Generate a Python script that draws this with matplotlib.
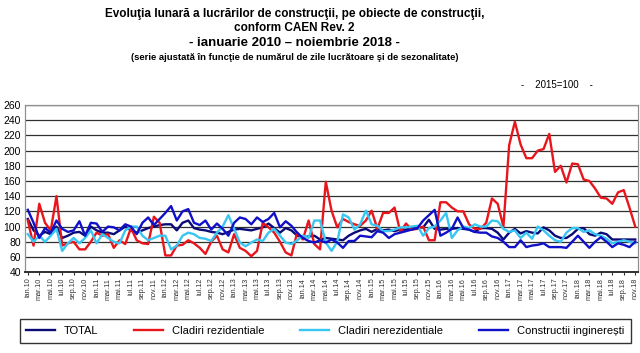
#!/usr/bin/env python3
"""Monthly construction works index by object type, Jan 2010 - Nov 2018."""

import matplotlib
matplotlib.use("Agg")
import matplotlib.pyplot as plt
import numpy as np

plt.rcParams["font.family"] = ["Liberation Sans", "DejaVu Sans"]

MONTHS = ["ian", "feb", "mar", "apr", "mai", "iun",
          "iul", "aug", "sep", "oct", "nov", "dec"]
YEARS = list(range(10, 19))
N_MONTHS = 107  # ian.10 .. nov.18

TOTAL = [
    110, 95, 88, 93, 90, 100, 85, 88, 92, 93,
    88, 100, 95, 92, 92, 90, 95, 100, 95, 92,
    95, 98, 100, 102, 103, 103, 95, 105, 108, 98,
    96, 95, 93, 92, 90, 93, 96, 97, 96, 95,
    97, 99, 104, 98, 92, 98, 95, 88, 86, 87,
    88, 83, 85, 84, 83, 82, 88, 92, 95, 97,
    93, 97, 95, 96, 94, 96, 96, 98, 98, 99,
    109, 97, 96, 97, 97, 98, 97, 96, 93, 98,
    98, 97, 92, 83, 92, 97, 91, 94, 92, 91,
    99, 95, 88, 85, 85, 90, 97, 98, 90, 88,
    92, 90, 83, 83, 83, 83, 83,
]
REZIDENTIALE = [
    108, 75, 130, 105, 95, 140, 75, 78, 80, 70,
    70, 80, 92, 88, 90, 72, 82, 77, 98, 82,
    78, 77, 113, 105, 62, 62, 75, 76, 82, 78,
    72, 64, 80, 88, 70, 66, 90, 72, 68, 61,
    68, 105, 99, 92, 80, 66, 62, 92, 83, 108,
    77, 70, 159, 121, 99, 110, 106, 103, 101, 108,
    121, 97, 118, 118, 125, 93, 104, 96, 97, 100,
    82, 82, 132, 132, 125, 120, 120, 103, 97, 97,
    105, 137, 130, 100, 207, 238, 208, 190, 190, 200,
    202, 222, 172, 180, 158, 183, 182, 162, 160, 150,
    138, 137, 130, 145, 148, 125, 100,
]
NEREZIDENTIALE = [
    90, 80, 88, 80, 88, 97, 68, 78, 85, 78,
    85, 95, 78, 90, 85, 80, 78, 95, 100, 100,
    88, 82, 85, 88, 88, 70, 75, 88, 92, 90,
    85, 84, 81, 92, 100, 115, 97, 79, 74, 79,
    83, 81, 92, 97, 88, 79, 77, 82, 88, 85,
    108, 108, 79, 68, 80, 116, 112, 96, 103, 121,
    103, 101, 94, 94, 96, 99, 99, 100, 101, 88,
    98, 100, 108, 118, 85, 95, 100, 98, 103, 100,
    100, 108, 107, 97, 93, 95, 85, 92, 84, 100,
    95, 88, 82, 80, 92, 98, 98, 93, 95, 90,
    88, 84, 78, 80, 82, 80, 78,
]
INGINERESTI = [
    122, 105, 85, 98, 92, 108, 97, 93, 95, 107,
    88, 105, 104, 93, 100, 99, 95, 103, 100, 90,
    105, 112, 102, 110, 118, 127, 108, 120, 123, 105,
    102, 108, 96, 104, 97, 88, 105, 112, 110, 103,
    112, 106, 110, 118, 99, 107, 101, 92, 85, 81,
    79, 82, 79, 83, 79, 72, 81, 81, 88, 87,
    86, 94, 92, 85, 90, 92, 94, 96, 98, 108,
    115, 122, 88, 92, 97, 112, 98, 96, 93, 92,
    92, 87, 85, 80, 73, 73, 82, 73, 75, 76,
    78, 73, 73, 73, 72, 80, 88, 80, 72, 80,
    86, 80, 73, 78, 76, 73, 80,
]

SERIES = [
    ("TOTAL", TOTAL, "#0b0b78"),
    ("Cladiri rezidentiale", REZIDENTIALE, "#e8161c"),
    ("Cladiri nerezidentiale", NEREZIDENTIALE, "#38c6f2"),
    ("Constructii inginerești", INGINERESTI, "#1010c8"),
]


def main() -> None:
    labels = [f"{m}.{y}" for y in YEARS for m in MONTHS][:N_MONTHS]
    x = np.arange(N_MONTHS)

    fig = plt.figure(figsize=(6.4, 3.53), dpi=100)
    ax = fig.add_axes([0.039, 0.229, 0.958, 0.4735])

    for name, vals, color in SERIES:
        ax.plot(x, vals, color=color, lw=1.7, label=name, zorder=3)

    ax.set_ylim(40, 260)
    ax.set_yticks(range(40, 261, 20))
    ax.set_xlim(-0.5, N_MONTHS - 0.5)
    ax.set_xticks(x[::2])
    ax.set_xticklabels(labels[::2], rotation=90, fontsize=5.2, color="#333333")
    ax.tick_params(axis="y", labelsize=7.5, length=0, pad=3)
    ax.tick_params(axis="x", length=2, pad=2, color="#333333")
    ax.grid(axis="y", color="#303030", lw=0.9)
    ax.set_axisbelow(True)
    for side in ("top", "right", "left"):
        ax.spines[side].set_color("#909090")
        ax.spines[side].set_linewidth(0.9)
    ax.spines["bottom"].set_color("#303030")
    ax.spines["bottom"].set_linewidth(1.4)

    fig.text(0.46, 0.96, "Evoluţia lunară a lucrărilor de construcţii, pe obiecte de construcţii,",
             ha="center", va="center", fontsize=8.5, fontweight="bold")
    fig.text(0.46, 0.92, "conform CAEN Rev. 2",
             ha="center", va="center", fontsize=8.5, fontweight="bold")
    fig.text(0.46, 0.878, "- ianuarie 2010 – noiembrie 2018 -",
             ha="center", va="center", fontsize=9.5, fontweight="bold")
    fig.text(0.46, 0.838, "(serie ajustată în funcţie de numărul de zile lucrătoare şi de sezonalitate)",
             ha="center", va="center", fontsize=6.8, fontweight="bold")
    fig.text(0.87, 0.76, "-    2015=100    -", ha="center", va="center", fontsize=7)

    fig.legend(loc="center", ncol=4, mode="expand", fontsize=8,
               bbox_to_anchor=(0.022, 0.025, 0.972, 0.075),
               frameon=True, fancybox=False, edgecolor="black",
               handlelength=2.6, borderpad=0.6)

    fig.savefig("out.png", dpi=100)
    plt.close(fig)


if __name__ == "__main__":
    main()
